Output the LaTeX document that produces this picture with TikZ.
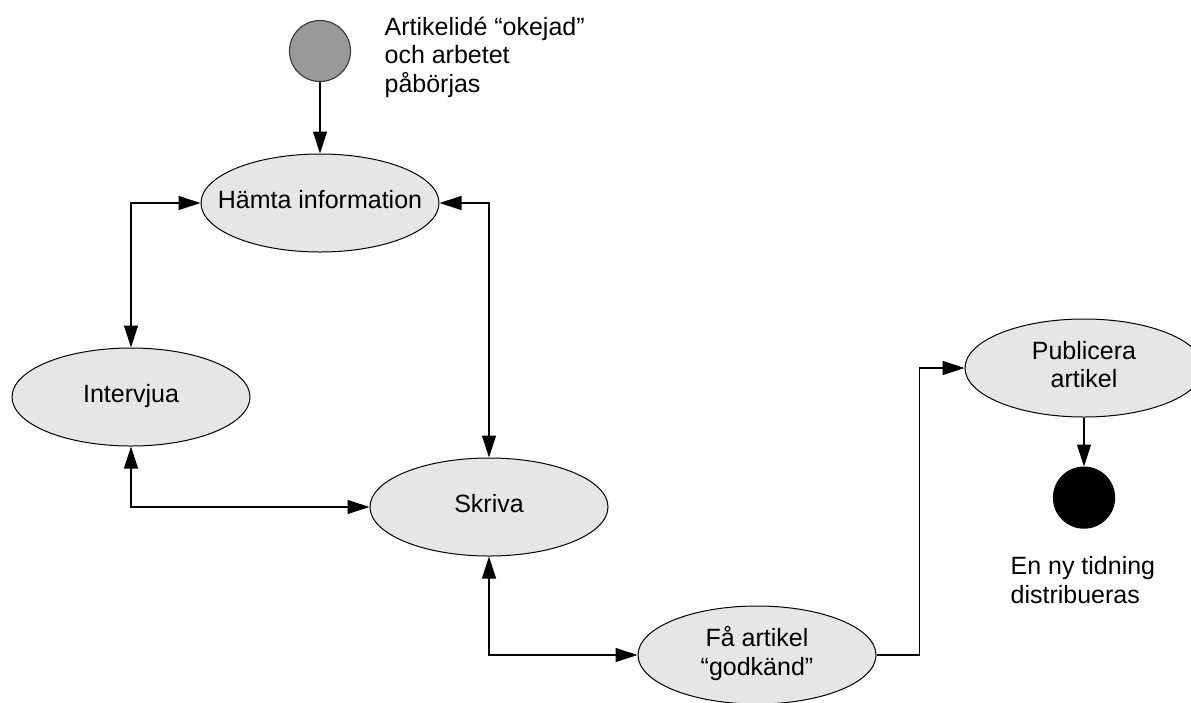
\documentclass[tikz,border=0pt]{standalone}
\usepackage{fontspec}
\setmainfont{Liberation Sans}
\usepackage{xcolor}
\usetikzlibrary{arrows.meta, positioning, shapes.geometric}
\definecolor{stategray}{HTML}{E6E6E6}
\definecolor{startgray}{HTML}{999999}
% label of fixed-size ellipse, so the text does not widen it
\newcommand{\statetext}[1]{\makebox[0pt]{\begin{tabular}{@{}c@{}}#1\end{tabular}}}

\begin{document}
\begin{tikzpicture}[x=1pt, y=-1pt, ->, >={Triangle[length=22pt, width=14pt]},
    line width=1.2pt, font=\fontsize{25}{28.5}\selectfont]
    \tikzstyle{state} = [draw, ellipse, fill=stategray, line width=1pt,
        minimum width=238pt, minimum height=98pt, inner sep=0pt]
    \tikzstyle{dot} = [draw, circle, minimum size=61pt, inner sep=0pt]
    \tikzstyle{note} = [inner sep=0pt, align=left, anchor=base west]
    \useasboundingbox (0,0) rectangle (1191,702);
    \node [dot, fill=startgray, draw=black!75] at (320,51) (1) {};
    \node [note] at (384,92) (1t) {Artikelidé “okejad”\\och arbetet\\påbörjas};
    \node [state] at (320,203) (2) {\statetext{Hämta information}};
    \node [state] at (131,397) (3) {\statetext{Intervjua}};
    \node [state] at (489,507) (4) {\statetext{Skriva}};
    \node [state] at (757,655) (5) {\statetext{Få artikel\\“godkänd”}};
    \node [state] at (1084,368) (6) {\statetext{Publicera\\artikel}};
    \node [dot, fill=black, below=49pt of 6] (7) {};
    \node [note] at (1010,603) (7t) {En ny tidning\\distribueras};
    \draw (1.south) to (2.north);
    \draw[<->] (2.west) -| (3.north);
    \draw[<->] (2.east) -| (4.north);
    \draw[<->] (3.south) |- (4.west);
    \draw[<->] (4.south) |- (5.west);
    \draw (5.east) -- ++(43,0) |- (6.west);
    \draw (6.south) to (7.north);
\end{tikzpicture}
\end{document}
